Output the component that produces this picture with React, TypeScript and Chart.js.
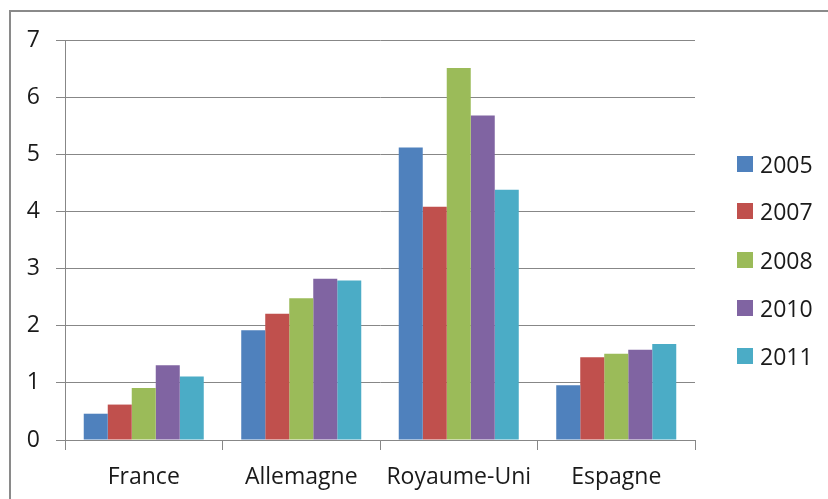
import React, { useEffect, useRef } from "react";
import { Chart, registerables } from "chart.js";

Chart.register(...registerables);

const categories = ["France", "Allemagne", "Royaume-Uni", "Espagne"];
const years = ["2005", "2007", "2008", "2010", "2011"];
const values2005 = [0.46, 1.92, 5.12, 0.96];
const values2007 = [0.62, 2.21, 4.08, 1.45];
const values2008 = [0.91, 2.48, 6.51, 1.51];
const values2010 = [1.31, 2.82, 5.68, 1.58];
const values2011 = [1.11, 2.79, 4.38, 1.68];
const seriesValues = [values2005, values2007, values2008, values2010, values2011];
const colors = ["#4F81BD", "#C0504D", "#9BBB59", "#8064A2", "#4BACC6"];
const yTicks = [0, 1, 2, 3, 4, 5, 6, 7];

const FONT = "'Open Sans', sans-serif";
const GRID = "#878787";
const TEXT = "#1a1a1a";

export default function App() {
  const canvasRef = useRef<HTMLCanvasElement | null>(null);

  useEffect(() => {
    if (!canvasRef.current) return;
    const chart = new Chart(canvasRef.current, {
      type: "bar",
      data: {
        labels: categories,
        datasets: years.map((y, i) => ({
          label: y,
          data: seriesValues[i],
          backgroundColor: colors[i],
          borderWidth: 0,
          categoryPercentage: 0.762,
          barPercentage: 1,
        })),
      },
      options: {
        animation: false,
        responsive: true,
        maintainAspectRatio: false,
        layout: { padding: { left: 5, top: 40, right: 133, bottom: 0 } },
        plugins: { legend: { display: false }, tooltip: { enabled: false } },
        scales: {
          x: {
            grid: {
              display: true,
              offset: true,
              drawOnChartArea: false,
              drawTicks: true,
              tickLength: 10,
              color: GRID,
              lineWidth: 1,
            },
            border: { display: true, color: GRID, width: 1 },
            ticks: {
              color: TEXT,
              font: { family: FONT, size: 23 },
              padding: 14,
              maxRotation: 0,
              autoSkip: false,
            },
            afterFit: (scale: any) => {
              scale.height = 59;
            },
          },
          y: {
            min: 0,
            max: 7,
            afterBuildTicks: (scale: any) => {
              scale.ticks = yTicks.map((v) => ({ value: v }));
            },
            grid: {
              color: GRID,
              lineWidth: 1,
              drawTicks: true,
              tickLength: 9,
            },
            border: { display: true, color: GRID, width: 1 },
            ticks: {
              color: TEXT,
              font: { family: FONT, size: 23 },
              padding: 16,
            },
            afterFit: (scale: any) => {
              scale.width = 60;
            },
          },
        },
      },
    });
    return () => chart.destroy();
  }, []);

  const legendTop = [163.5, 211, 259.5, 308, 355.5];

  return (
    <div
      style={{
        position: "absolute",
        left: 0,
        top: 0,
        width: 828,
        height: 499,
        overflow: "hidden",
        background: "#fff",
        fontFamily: FONT,
      }}
    >
      <div
        style={{
          position: "absolute",
          left: 9,
          top: 10,
          width: 840,
          height: 520,
          border: "2px solid #8a8a8a",
          boxSizing: "border-box",
        }}
      />
      <div style={{ position: "absolute", left: 0, top: 0, width: 828, height: 499 }}>
        <canvas ref={canvasRef} />
      </div>
      {years.map((y, i) => (
        <div
          key={y}
          style={{
            position: "absolute",
            left: 737,
            top: legendTop[i] - 16,
            height: 32,
            display: "flex",
            alignItems: "center",
            fontSize: 23,
            color: TEXT,
            whiteSpace: "nowrap",
          }}
        >
          <span
            style={{
              display: "inline-block",
              width: 16,
              height: 16,
              background: colors[i],
              marginRight: 7,
            }}
          />
          <span>{y}</span>
        </div>
      ))}
    </div>
  );
}
